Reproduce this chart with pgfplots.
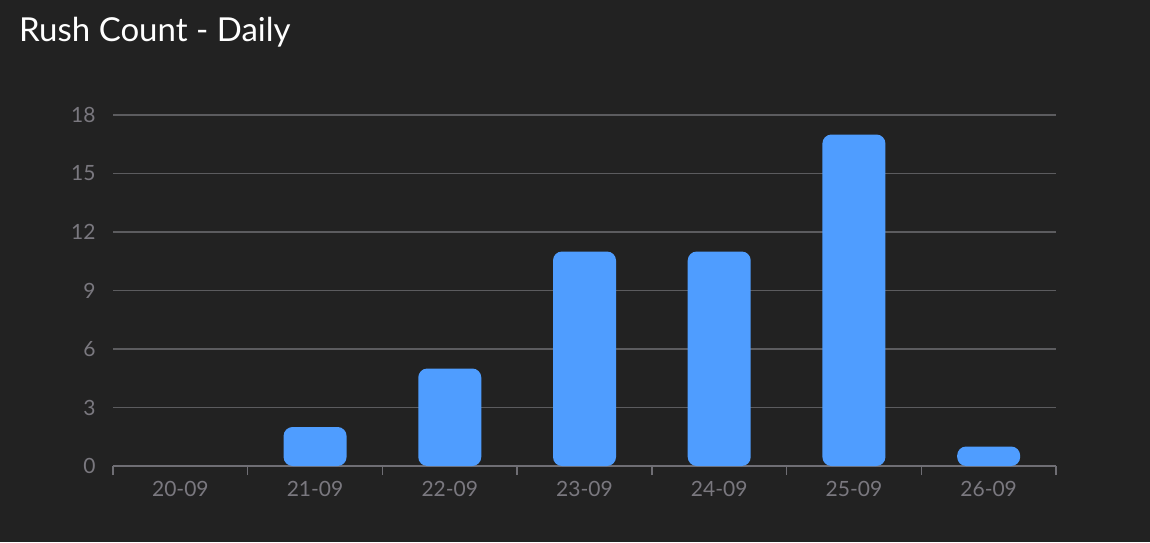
\documentclass[border=0pt]{standalone}
\usepackage{pgfplots}
\pgfplotsset{compat=1.18}
\usepackage{fontspec}
\setmainfont{Lato}
\definecolor{bg}{HTML}{222222}
\definecolor{barblue}{HTML}{4F9DFF}
\definecolor{gridgray}{HTML}{5C5C5F}
\definecolor{axgray}{HTML}{6F6E74}
\definecolor{lblgray}{HTML}{7A787F}
\begin{document}
\begin{tikzpicture}[x=1pt,y=1pt]
\fill[bg] (0,0) rectangle (1150,542);
\node[anchor=base west,text=white,font=\fontsize{33}{38}\selectfont,inner sep=0pt] at (19,500) {Rush Count - Daily};
\begin{axis}[
  at={(113pt,76pt)}, anchor=south west,
  scale only axis, width=943pt, height=351pt,
  xmin=-0.5, xmax=6.5, ymin=0, ymax=18,
  axis lines*=left,
  y axis line style={draw=none},
  x axis line style={draw=axgray, line width=1.5pt},
  ybar, bar width=63pt,
  xtick={0,...,6},
  xticklabels={20-09,21-09,22-09,23-09,24-09,25-09,26-09},
  minor xtick={-0.5,0.5,...,6.5},
  major tick length=0pt, minor tick length=9pt, tick align=outside,
  tick style={draw=axgray, line width=1.5pt},
  ytick={0,3,...,18},
  ymajorgrids, grid style={draw=gridgray, line width=1.3pt},
  tick label style={text=lblgray, font=\fontsize{21}{24}\selectfont},
  /pgf/number format/assume math mode=true,
  xticklabel style={yshift=-12pt},
  yticklabel style={xshift=-14pt},
  clip=false,
]
\addplot[fill=barblue, draw=none, rounded corners=9pt] coordinates {(1,2) (2,5) (3,11) (4,11) (5,17) (6,1)};
\end{axis}
\end{tikzpicture}
\end{document}
